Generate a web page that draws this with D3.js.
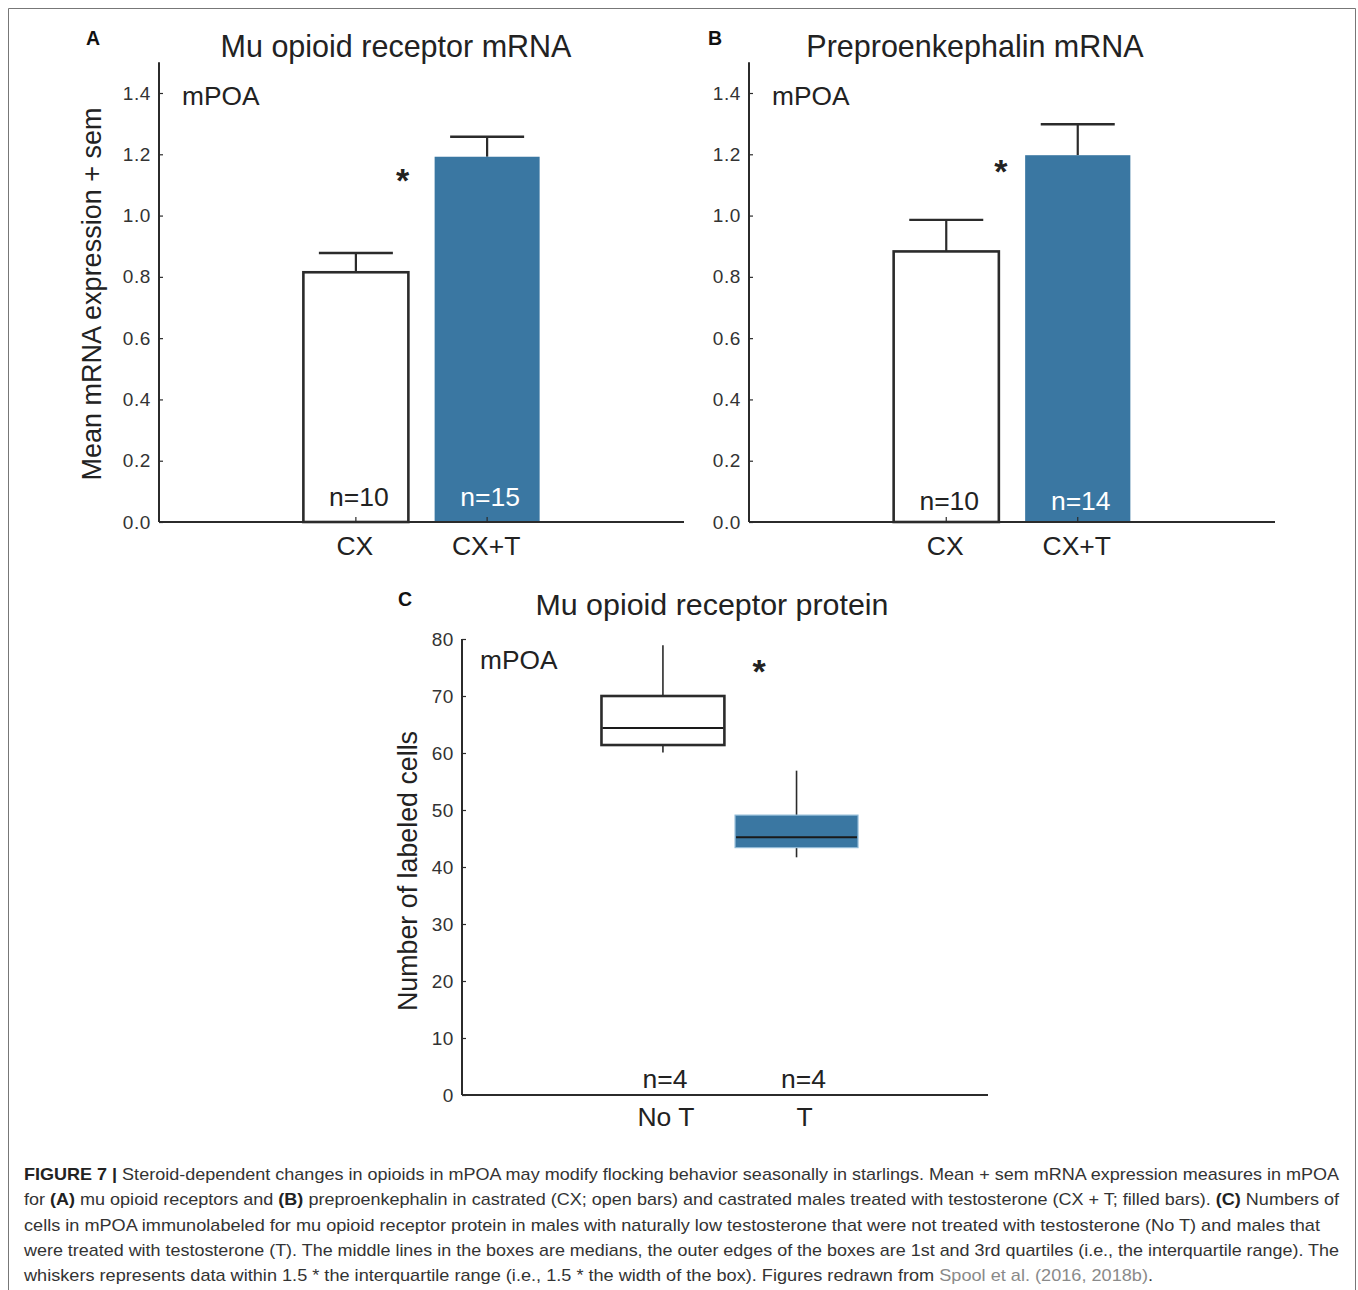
<!DOCTYPE html>
<html><head><meta charset="utf-8">
<script src="https://cdn.jsdelivr.net/npm/d3@7"></script>
<style>
html,body{margin:0;padding:0;background:#fff;}
svg text{font-family:"Liberation Sans",Arial,Helvetica,sans-serif;}
</style></head>
<body>
<svg id="fig" width="1358" height="1290"></svg>
<script>
// ---------- data ----------
const categoriesAB = ["CX", "CX+T"];
const muMeans = [0.815, 1.192];
const muSem = [0.063, 0.065];
const muN = ["n=10", "n=15"];
const penkMeans = [0.883, 1.197];
const penkSem = [0.103, 0.101];
const penkN = ["n=10", "n=14"];
const yTicksAB = [0, 0.2, 0.4, 0.6, 0.8, 1.0, 1.2, 1.4];

const categoriesC = ["No T", "T"];
const whiskerLow = [60.1, 41.7];
const quart1 = [61.4, 43.4];
const medians = [64.4, 45.2];
const quart3 = [70.0, 49.1];
const whiskerHigh = [78.9, 56.9];
const nC = ["n=4", "n=4"];
const yTicksC = [0, 10, 20, 30, 40, 50, 60, 70, 80];

const sigA = 1.13, sigB = 1.16, sigC = 75.1;

const captionLines = [
  [["FIGURE 7 | ", "b"], ["Steroid-dependent changes in opioids in mPOA may modify flocking behavior seasonally in starlings. Mean + sem mRNA expression measures in mPOA", ""]],
  [["for ", ""], ["(A)", "b"], [" mu opioid receptors and ", ""], ["(B)", "b"], [" preproenkephalin in castrated (CX; open bars) and castrated males treated with testosterone (CX + T; filled bars). ", ""], ["(C)", "b"], [" Numbers of", ""]],
  [["cells in mPOA immunolabeled for mu opioid receptor protein in males with naturally low testosterone that were not treated with testosterone (No T) and males that", ""]],
  [["were treated with testosterone (T). The middle lines in the boxes are medians, the outer edges of the boxes are 1st and 3rd quartiles (i.e., the interquartile range). The", ""]],
  [["whiskers represents data within 1.5 * the interquartile range (i.e., 1.5 * the width of the box). Figures redrawn from ", ""], ["Spool et al. (2016, 2018b)", "g"], [".", ""]]
];

// ---------- drawing ----------
const BLUE = "#3a77a2";
const INK = "#2b2b2b";
const svg = d3.select("#fig");

svg.append("path").attr("d", "M8.5,1290 V8.5 H1355.5 V1290")
  .attr("fill", "none").attr("stroke", "#777").attr("stroke-width", 1);

function yAxis(g, y, ticks, fmt) {
  const ax = d3.axisLeft(y).tickValues(ticks).tickFormat(fmt)
    .tickSizeInner(-4).tickSizeOuter(0).tickPadding(8);
  g.call(ax);
  g.select(".domain").attr("stroke", INK).attr("stroke-width", 2);
  g.selectAll(".tick line").attr("stroke", INK).attr("stroke-width", 1.2);
  g.selectAll(".tick text").attr("font-size", 19).attr("fill", "#333")
    .attr("letter-spacing", "0.6px")
    .attr("font-family", '"Liberation Sans", Arial, sans-serif');
}

function barPanel(cfg) {
  const {x0, x1, yZero, yTopVal, means, sems, ns, title, titleX, letter, letterX, sig, sigFrac, nBase, ylabel} = cfg;
  const W = x1 - x0;
  const y = d3.scaleLinear().domain([0, 1.4]).range([yZero, 93]);
  const x = d3.scaleBand().domain(categoriesAB)
    .range([x0 + 0.25 * W, x0 + 0.75 * W]).paddingInner(0.2).paddingOuter(0.1);
  const g = svg.append("g");

  const data = categoriesAB.map((c, i) => ({c, m: means[i], s: sems[i], n: ns[i], i}));
  data.forEach(d => {
    const cx = x(d.c) + x.bandwidth() / 2;
    g.append("line").attr("x1", cx).attr("x2", cx).attr("y1", y(d.m)).attr("y2", y(d.m + d.s))
      .attr("stroke", INK).attr("stroke-width", 2.2);
    g.append("line").attr("x1", cx - 37).attr("x2", cx + 37).attr("y1", y(d.m + d.s)).attr("y2", y(d.m + d.s))
      .attr("stroke", INK).attr("stroke-width", 2.4);
  });
  g.selectAll("rect.bar").data(data).join("rect").attr("class", "bar")
    .attr("x", d => x(d.c))
    .attr("y", d => y(d.m))
    .attr("width", x.bandwidth())
    .attr("height", d => y(0) - y(d.m))
    .attr("fill", d => d.i === 0 ? "#fff" : BLUE)
    .attr("stroke", d => d.i === 0 ? INK : "none")
    .attr("stroke-width", 2.6);

  g.append("line").attr("x1", x0).attr("x2", x1).attr("y1", yZero).attr("y2", yZero)
    .attr("stroke", INK).attr("stroke-width", 2);
  const xa = g.append("g").attr("transform", `translate(-1,${yZero})`)
    .call(d3.axisBottom(x).tickSizeInner(-5).tickSizeOuter(0).tickPadding(14));
  xa.select(".domain").remove();
  xa.selectAll(".tick line").attr("stroke", INK).attr("stroke-width", 1.2).attr("transform", "translate(1,0)");
  xa.selectAll(".tick text").attr("font-size", 26.5).attr("fill", "#222")
    .attr("font-family", '"Liberation Sans", Arial, sans-serif');

  const ya = g.append("g").attr("transform", `translate(${x0},0)`);
  yAxis(ya, y, yTicksAB, d3.format(".1f"));
  ya.select(".domain").attr("d", `M0,${y(yTopVal)}V${yZero}`);

  g.selectAll("text.n").data(data).join("text").attr("class", "n")
    .attr("x", d => x(d.c) + x.bandwidth() / 2 + 3)
    .attr("y", nBase)
    .attr("text-anchor", "middle").attr("font-size", 26.5)
    .attr("fill", d => d.i === 0 ? "#222" : "#fff")
    .text(d => d.n);

  g.append("text").attr("x", x0 + sigFrac * W).attr("y", y(sig) + 16)
    .attr("text-anchor", "middle").attr("font-size", 34).attr("font-weight", "bold")
    .attr("fill", "#222").text("*");

  g.append("text").attr("x", titleX).attr("y", 57).attr("text-anchor", "middle")
    .attr("font-size", 30.5).attr("fill", "#222").text(title);
  g.append("text").attr("x", letterX).attr("y", 45).attr("text-anchor", "middle")
    .attr("font-size", 19.5).attr("font-weight", "bold").attr("fill", "#111").text(letter);
  g.append("text").attr("x", x0 + 23).attr("y", 105).attr("font-size", 26.3)
    .attr("fill", "#222").text("mPOA");
  if (ylabel) {
    g.append("text").attr("transform", `translate(101,294) rotate(-90)`)
      .attr("text-anchor", "middle").attr("font-size", 27).attr("fill", "#222").text(ylabel);
  }
}

barPanel({x0: 159, x1: 684, yZero: 522, yTopVal: 1.5, means: muMeans, sems: muSem, ns: muN,
  title: "Mu opioid receptor mRNA", titleX: 396, letter: "A", letterX: 93, sig: sigA, sigFrac: 0.464,
  nBase: 506, ylabel: "Mean mRNA expression + sem"});
barPanel({x0: 749, x1: 1275, yZero: 522, yTopVal: 1.5, means: penkMeans, sems: penkSem, ns: penkN,
  title: "Preproenkephalin mRNA", titleX: 975, letter: "B", letterX: 715, sig: sigB, sigFrac: 0.479,
  nBase: 510, ylabel: null});

// ---------- panel C ----------
(function () {
  const x0 = 462, x1 = 988, yZero = 1095;
  const W = x1 - x0;
  const y = d3.scaleLinear().domain([0, 80]).range([yZero, 639]);
  const x = d3.scaleBand().domain(categoriesC)
    .range([x0 + 0.255 * W, x0 + 0.763 * W]).paddingInner(0.08).paddingOuter(0.04);
  const g = svg.append("g");
  const data = categoriesC.map((c, i) => ({c, i, lo: whiskerLow[i], q1: quart1[i], med: medians[i], q3: quart3[i], hi: whiskerHigh[i], n: nC[i]}));

  data.forEach(d => {
    const cx = x(d.c) + x.bandwidth() / 2;
    g.append("line").attr("x1", cx).attr("x2", cx).attr("y1", y(d.q3)).attr("y2", y(d.hi))
      .attr("stroke", INK).attr("stroke-width", 1.6);
    g.append("line").attr("x1", cx).attr("x2", cx).attr("y1", y(d.q1)).attr("y2", y(d.lo))
      .attr("stroke", INK).attr("stroke-width", 1.6);
    g.append("rect").attr("x", x(d.c)).attr("y", y(d.q3)).attr("width", x.bandwidth())
      .attr("height", y(d.q1) - y(d.q3))
      .attr("fill", d.i === 0 ? "#fff" : BLUE)
      .attr("stroke", d.i === 0 ? INK : "#8fb9d6")
      .attr("stroke-width", d.i === 0 ? 2.6 : 1.2);
    g.append("line").attr("x1", x(d.c) + 1).attr("x2", x(d.c) + x.bandwidth() - 1)
      .attr("y1", y(d.med)).attr("y2", y(d.med))
      .attr("stroke", "#1a1a1a").attr("stroke-width", 2);
  });

  g.append("line").attr("x1", x0).attr("x2", x1).attr("y1", yZero).attr("y2", yZero)
    .attr("stroke", INK).attr("stroke-width", 2);
  const xa = g.append("g").attr("transform", `translate(0,${yZero})`)
    .call(d3.axisBottom(x).tickSizeInner(0).tickSizeOuter(0).tickPadding(12));
  xa.select(".domain").remove();
  xa.selectAll(".tick text").attr("font-size", 26.5).attr("fill", "#222")
    .attr("dx", (d, i) => i === 0 ? 3 : 8)
    .attr("font-family", '"Liberation Sans", Arial, sans-serif');

  const ya = g.append("g").attr("transform", `translate(${x0},0)`);
  yAxis(ya, y, yTicksC, d3.format("d"));
  ya.select(".domain").attr("d", `M0,${y(80)}V${yZero}`);

  g.selectAll("text.n").data(data).join("text").attr("class", "n")
    .attr("x", (d, i) => x(d.c) + x.bandwidth() / 2 + (i === 0 ? 2 : 7)).attr("y", 1088)
    .attr("text-anchor", "middle").attr("font-size", 26.5).attr("fill", "#222").text(d => d.n);

  g.append("text").attr("x", x0 + 0.565 * W).attr("y", y(sigC) + 16)
    .attr("text-anchor", "middle").attr("font-size", 34).attr("font-weight", "bold")
    .attr("fill", "#222").text("*");

  g.append("text").attr("x", 712).attr("y", 615).attr("text-anchor", "middle")
    .attr("font-size", 30.4).attr("fill", "#222").text("Mu opioid receptor protein");
  g.append("text").attr("x", 405).attr("y", 606).attr("text-anchor", "middle")
    .attr("font-size", 19.5).attr("font-weight", "bold").attr("fill", "#111").text("C");
  g.append("text").attr("x", 480).attr("y", 669).attr("font-size", 26.3).attr("fill", "#222").text("mPOA");
  g.append("text").attr("transform", `translate(417,871) rotate(-90)`)
    .attr("text-anchor", "middle").attr("font-size", 26.8).attr("fill", "#222").text("Number of labeled cells");
})();

// ---------- caption ----------
const capWidths = [1315, 1315, 1296, 1315, 1129];
captionLines.forEach((line, li) => {
  const t = svg.append("text").attr("x", 24).attr("y", 1180 + li * 25.3)
    .attr("font-size", 17).attr("fill", "#333")
    .attr("textLength", capWidths[li]).attr("lengthAdjust", "spacingAndGlyphs");
  line.forEach(([s, k]) => {
    const ts = t.append("tspan").text(s);
    if (k === "b") ts.attr("font-weight", "bold").attr("fill", "#222");
    if (k === "g") ts.attr("fill", "#8a8a8a");
  });
});
</script>
</body></html>
